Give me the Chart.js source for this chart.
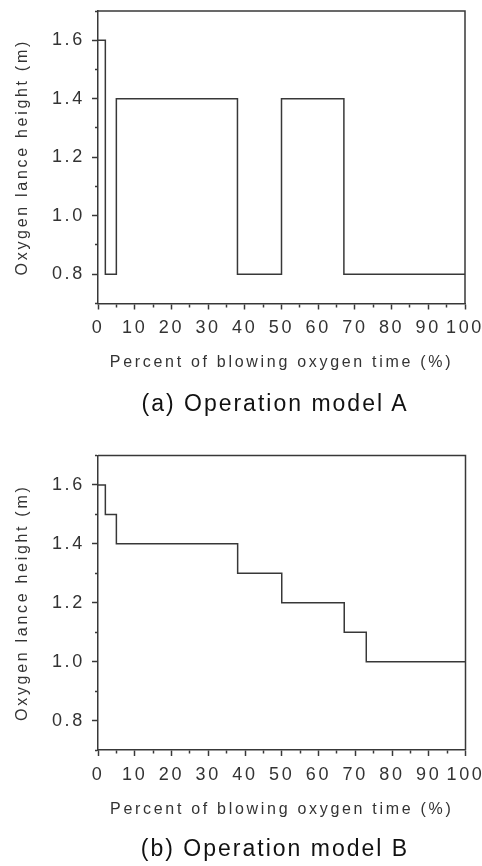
<!DOCTYPE html>
<html>
<head>
<meta charset="utf-8">
<script src="https://cdn.jsdelivr.net/npm/chart.js@4"></script>
<style>
  body { margin: 0; background: #fff; }
  #page { position: relative; width: 482px; height: 866px; overflow: hidden; }
  .panel { position: absolute; left: 0; }
  .caption {
    position: absolute; left: 275px; transform: translateX(-50%);
    white-space: nowrap; font: 23px "Liberation Sans", Arial, sans-serif;
    letter-spacing: 2px; line-height: 26px; color: #111;
  }
</style>
</head>
<body>
<div id="page">
  <canvas id="chartA" class="panel" style="top:0" width="482" height="440"></canvas>
  <div class="caption" style="top:390px">(a) Operation model A</div>
  <canvas id="chartB" class="panel" style="top:445px" width="482" height="421"></canvas>
  <div class="caption" style="top:835px">(b) Operation model B</div>
</div>
<script>
// lance height schedule: each height holds from its time until the next time
const timeA = [0, 2, 5, 38, 50, 67, 100];
const heightA = [1.6, 0.8, 1.4, 0.8, 1.4, 0.8, 0.8];

const timeB = [0, 2, 5, 38, 50, 67, 73, 100];
const heightB = [1.6, 1.5, 1.4, 1.3, 1.2, 1.1, 1.0, 1.0];

const xTitle = 'Percent of blowing oxygen time (%)';
const yTitle = 'Oxygen lance height (m)';

const ink = '#383838';
const fontFamily = '"Liberation Sans", Arial, sans-serif';

// the old figure has wide letter spacing everywhere
const spacing = {
  id: 'spacing',
  beforeLayout(chart) { chart.ctx.letterSpacing = '2.7px'; },
  beforeDraw(chart) { chart.ctx.letterSpacing = '2.7px'; }
};

// closed box round the plot (top and right edges)
const frame = {
  id: 'frame',
  afterDraw(chart) {
    const a = chart.chartArea;
    const ctx = chart.ctx;
    ctx.save();
    ctx.strokeStyle = ink;
    ctx.lineWidth = 1.5;
    ctx.beginPath();
    ctx.moveTo(a.left, a.top);
    ctx.lineTo(a.right, a.top);
    ctx.lineTo(a.right, a.bottom);
    ctx.stroke();
    ctx.restore();
  }
};

function noPadding(scale) {
  scale.paddingLeft = 0;
  scale.paddingRight = 0;
  scale.paddingTop = 0;
  scale.paddingBottom = 0;
}

function makeChart(id, times, heights, padTop, padRight, padBottom) {
  const points = times.map((t, i) => ({ x: t, y: heights[i] }));
  return new Chart(document.getElementById(id), {
    type: 'line',
    data: {
      datasets: [{
        data: points,
        stepped: 'before',
        borderColor: ink,
        borderWidth: 1.5,
        pointRadius: 0,
        fill: false
      }]
    },
    options: {
      responsive: false,
      animation: false,
      layout: { padding: { top: padTop, right: padRight, bottom: padBottom, left: 0 } },
      plugins: { legend: { display: false }, tooltip: { enabled: false } },
      scales: {
        x: {
          type: 'linear',
          min: 0,
          max: 100,
          border: { color: ink, width: 1.5 },
          grid: {
            drawOnChartArea: false,
            tickLength: 6,
            tickColor: ink,
            tickWidth: 1.5,
            tickBorderDash: (c) => (Math.round(c.tick.value) % 10 === 0 ? [] : [3, 10])
          },
          ticks: {
            stepSize: 5,
            autoSkip: false,
            maxRotation: 0,
            padding: 8,
            color: '#333',
            font: { family: fontFamily, size: 18 },
            callback: (v) => (Math.round(v) % 10 === 0 ? String(Math.round(v)) : '')
          },
          title: {
            display: true,
            text: xTitle,
            color: '#333',
            font: { family: fontFamily, size: 16 },
            padding: { top: 0, bottom: 0 }
          },
          afterFit(scale) { scale.height = 69; noPadding(scale); }
        },
        y: {
          min: 0.7,
          max: 1.7,
          border: { color: ink, width: 1.5 },
          grid: {
            drawOnChartArea: false,
            tickLength: 6,
            tickColor: ink,
            tickWidth: 1.5,
            tickBorderDash: (c) => (Math.round(c.tick.value * 10) % 2 === 0 ? [] : [3, 3]),
            tickBorderDashOffset: (c) => (Math.round(c.tick.value * 10) % 2 === 0 ? 0 : 3)
          },
          ticks: {
            stepSize: 0.1,
            autoSkip: false,
            padding: 7,
            color: '#333',
            font: { family: fontFamily, size: 18 },
            callback: (v) => (Math.round(v * 10) % 2 === 0 ? v.toFixed(1) : '')
          },
          title: {
            display: true,
            text: yTitle,
            color: '#333',
            font: { family: fontFamily, size: 16 },
            padding: { top: 13, bottom: 0 }
          },
          afterFit(scale) { scale.width = 98; noPadding(scale); }
        }
      }
    },
    plugins: [spacing, frame]
  });
}

makeChart('chartA', timeA, heightA, 11, 17, 67.5);
makeChart('chartB', timeB, heightB, 10.5, 16.5, 47);
</script>
</body>
</html>
